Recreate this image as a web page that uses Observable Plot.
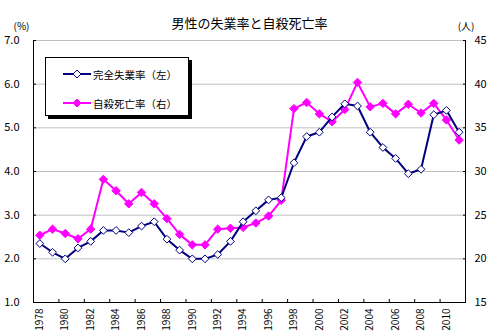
<!DOCTYPE html>
<html>
<head>
<meta charset="utf-8">
<script src="https://cdn.jsdelivr.net/npm/d3@7"></script>
<script src="https://cdn.jsdelivr.net/npm/@observablehq/plot@0.6"></script>
<style>
  body { margin: 0; background: #fff; }
  #wrap { position: relative; width: 492px; height: 334px; font-family: "Noto Sans CJK JP", sans-serif; }
  #legend { position: absolute; left: 45px; top: 57px; width: 142px; height: 57px; border: 1px solid #000;
            box-shadow: 3px 3px 0 #000; background: #fff; font-size: 10.5px; color: #000; }
  .row { position: absolute; left: 0; height: 16px; display: flex; align-items: center; }
  .row svg { margin-left: 17px; margin-right: 2px; }
</style>
</head>
<body>
<div id="wrap"></div>
<script>
// ---- data ----
const title = "男性の失業率と自殺死亡率";
const leftUnit = "(%)";
const rightUnit = "(人)";
const seriesNames = ["完全失業率（左）", "自殺死亡率（右）"];
const years = [1978, 1979, 1980, 1981, 1982, 1983, 1984, 1985, 1986, 1987,
               1988, 1989, 1990, 1991, 1992, 1993, 1994, 1995, 1996, 1997,
               1998, 1999, 2000, 2001, 2002, 2003, 2004, 2005, 2006, 2007,
               2008, 2009, 2010, 2011];
const unemployment = [2.35, 2.15, 2.0, 2.25, 2.4, 2.65, 2.65, 2.6, 2.75, 2.85,
                      2.45, 2.2, 2.0, 2.0, 2.1, 2.4, 2.85, 3.1, 3.35, 3.4,
                      4.2, 4.8, 4.9, 5.25, 5.55, 5.5, 4.9, 4.55, 4.3, 3.95,
                      4.05, 5.3, 5.4, 4.9];
const suicide = [22.7, 23.4, 22.9, 22.3, 23.4, 29.1, 27.8, 26.3, 27.6, 26.3,
                 24.6, 22.8, 21.6, 21.6, 23.4, 23.5, 23.6, 24.1, 24.9, 26.7,
                 37.2, 37.9, 36.6, 35.7, 37.1, 40.2, 37.4, 37.8, 36.6, 37.7,
                 36.7, 37.8, 35.9, 33.6];
const leftTicks = [1, 2, 3, 4, 5, 6, 7];
const rightTicks = [15, 20, 25, 30, 35, 40, 45];
const xLabelYears = [1978, 1980, 1982, 1984, 1986, 1988, 1990, 1992, 1994, 1996, 1998, 2000, 2002, 2004, 2006, 2008, 2010];

const navy = "#000080", magenta = "#ff00ff", grid = "#c0c0c0";

// map right-axis values onto left scale
const L0 = leftTicks[0], L1 = leftTicks[leftTicks.length - 1];
const R0 = rightTicks[0], R1 = rightTicks[rightTicks.length - 1];
const toLeft = s => L0 + (s - R0) * (L1 - L0) / (R1 - R0);
const fromLeft = v => Math.round(R0 + (v - L0) * (R1 - R0) / (L1 - L0));

const data = years.map((y, i) => ({year: y, u: unemployment[i], s: suicide[i]}));
const xLo = years[0] - 0.5, xHi = years[years.length - 1] + 0.5;
const boundaries = years.filter((d, i) => i % 2 === 1).map(d => d + 0.5);

const font = "'Noto Sans CJK JP', sans-serif";

const chart = Plot.plot({
  width: 492, height: 334,
  marginLeft: 33, marginRight: 27, marginTop: 40, marginBottom: 32,
  style: {fontFamily: font, fontSize: "11px", background: "white", color: "black"},
  x: {domain: [xLo, xHi], label: null},
  y: {domain: [L0, L1], label: null},
  marks: [
    Plot.ruleY(leftTicks.slice(1), {stroke: grid, strokeWidth: 1}),
    Plot.ruleX([xLo, xHi], {stroke: "black", strokeWidth: 1}),
    Plot.ruleY([L0], {stroke: "black", strokeWidth: 1}),
    // left axis
    Plot.axisY(leftTicks, {anchor: "left", tickSize: 0, tickPadding: 14, tickFormat: d => d.toFixed(1), fontSize: 11}),
    Plot.axisY(leftTicks, {anchor: "left", tickSize: -3, tickFormat: () => "", stroke: "black"}),
    // right axis
    Plot.axisY(rightTicks.map(toLeft), {anchor: "right", tickSize: 0, tickPadding: 9, tickFormat: d => String(fromLeft(d)), fontSize: 11}),
    Plot.axisY(rightTicks.map(toLeft), {anchor: "right", tickSize: -3, tickFormat: () => "", stroke: "black"}),
    // x axis
    Plot.axisX(xLabelYears, {anchor: "bottom", tickSize: 0, tickPadding: 6, tickRotate: -90, tickFormat: d => String(d), fontSize: 10}),
    Plot.axisX(boundaries, {anchor: "bottom", tickSize: -3, tickFormat: () => "", stroke: "black"}),
    // suicide series
    Plot.line(data, {x: "year", y: d => toLeft(d.s), stroke: magenta, strokeWidth: 2}),
    Plot.dot(data, {x: "year", y: d => toLeft(d.s), symbol: "diamond2", r: 3.8, fill: magenta, stroke: magenta, strokeWidth: 1}),
    // unemployment series
    Plot.line(data, {x: "year", y: "u", stroke: navy, strokeWidth: 2}),
    Plot.dot(data, {x: "year", y: "u", symbol: "diamond2", r: 3.5, fill: "white", stroke: navy, strokeWidth: 1}),
    // titles
    Plot.text([title], {frameAnchor: "top", dy: -22, fontSize: 13}),
    Plot.text([leftUnit], {frameAnchor: "top-left", dx: -20, dy: -18, fontSize: 10}),
    Plot.text([rightUnit], {frameAnchor: "top-right", dx: 9, dy: -18, fontSize: 10})
  ]
});

const wrap = document.getElementById("wrap");
wrap.appendChild(chart);

// legend
const legend = document.createElement("div");
legend.id = "legend";
const rows = [
  {name: seriesNames[0], color: navy, fill: "white", top: 8},
  {name: seriesNames[1], color: magenta, fill: magenta, top: 37}
];
rows.forEach(r => {
  const row = document.createElement("div");
  row.className = "row";
  row.style.top = r.top + "px";
  row.innerHTML = `<svg width="28" height="12"><line x1="0" y1="6" x2="28" y2="6" stroke="${r.color}" stroke-width="2"/>` +
    `<path d="M14,2L18,6L14,10L10,6Z" fill="${r.fill}" stroke="${r.color}" stroke-width="1"/></svg><span>${r.name}</span>`;
  legend.appendChild(row);
});
wrap.appendChild(legend);
</script>
</body>
</html>
